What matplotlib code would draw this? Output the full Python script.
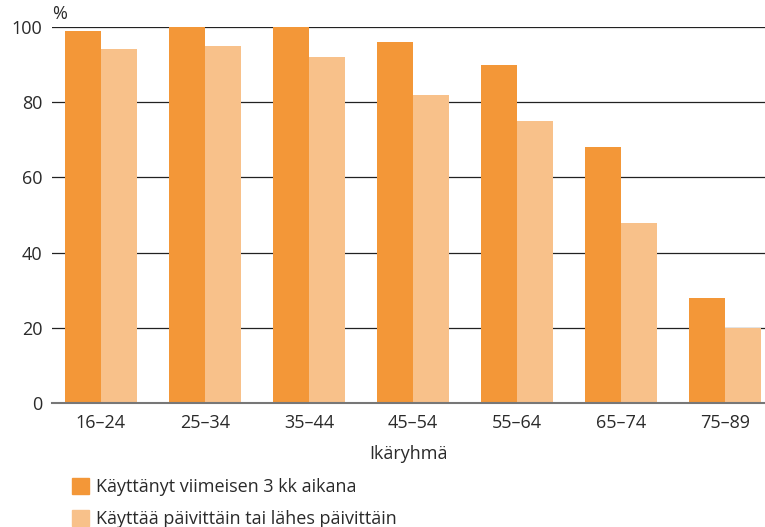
"""Internetin käyttö ikäryhmittäin"""

import matplotlib
matplotlib.use("Agg")
import matplotlib.pyplot as plt
from matplotlib.patches import Patch

plt.rcParams["font.family"] = ["Open Sans", "DejaVu Sans"]

groups = ["16–24", "25–34", "35–44", "45–54", "55–64", "65–74", "75–89"]
used_3m = [99, 100, 100, 96, 90, 68, 28]
daily = [94, 95, 92, 82, 75, 48, 20]
series_names = ["Käyttänyt viimeisen 3 kk aikana",
                "Käyttää päivittäin tai lähes päivittäin"]

DARK = "#F39738"
LIGHT = "#F8C18A"
TEXT = "#2a2a2a"
FS = 13

fig = plt.figure(figsize=(7.65, 5.27), dpi=100)
ax = fig.add_axes([0.068, 0.235, 0.932, 0.714])

w = 0.346
xs = range(len(groups))
ax.bar([x - w / 2 for x in xs], used_3m, width=w, color=DARK, zorder=2)
ax.bar([x + w / 2 for x in xs], daily, width=w, color=LIGHT, zorder=2)

ax.set_xlim(-0.47, 6.38)
ax.set_ylim(0, 100)
ax.set_yticks([0, 20, 40, 60, 80, 100])
ax.yaxis.grid(True, color="#222222", linewidth=0.9, zorder=1)
ax.set_axisbelow(True)
for side in ["top", "right", "left"]:
    ax.spines[side].set_visible(False)
ax.spines["bottom"].set_color("#777777")
ax.spines["bottom"].set_linewidth(1.5)
ax.spines["bottom"].set_zorder(3)

ax.set_xticks(list(xs))
ax.set_xticklabels(groups)
ax.tick_params(length=0, labelsize=FS, colors=TEXT, pad=8)
ax.tick_params(axis="y", pad=7)
ax.set_xlabel("Ikäryhmä", fontsize=FS, color=TEXT, labelpad=9)
ax.text(0.0, 1.01, "%", transform=ax.transAxes, fontsize=FS, color=TEXT,
        ha="left", va="bottom")

handles = [Patch(color=DARK), Patch(color=LIGHT)]
fig.legend(handles, series_names, loc="lower left", bbox_to_anchor=(0.073, -0.033),
           frameon=False, fontsize=FS, handlelength=0.95, handleheight=1.0,
           handletextpad=0.35, labelspacing=0.75, labelcolor=TEXT)

fig.savefig("out.png", dpi=100)
